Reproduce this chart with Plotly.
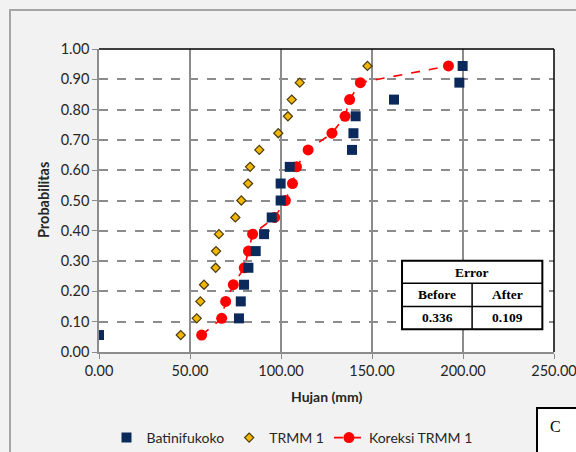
import plotly.graph_objects as go

prob = [0.056, 0.111, 0.167, 0.222, 0.278, 0.333, 0.389, 0.444, 0.500, 0.556,
        0.611, 0.667, 0.722, 0.778, 0.833, 0.889, 0.944]
batinifukoko = [0.0, 76.9, 77.9, 79.7, 82.1, 86.1, 90.7, 94.9, 99.8, 99.8,
                104.8, 139.0, 139.8, 141.0, 162.1, 198.0, 199.8]
trmm1 = [44.9, 53.7, 55.7, 57.7, 64.1, 64.3, 65.9, 74.9, 78.2, 81.9,
         83.0, 88.1, 98.5, 103.8, 105.9, 110.3, 147.5]
koreksi = [56.4, 67.4, 69.6, 73.8, 79.8, 82.1, 84.4, 96.5, 102.4, 106.3,
           108.5, 114.9, 128.0, 135.2, 137.7, 143.6, 192.0]
x_ticks = [0, 50, 100, 150, 200, 250]
y_ticks = [0.0, 0.1, 0.2, 0.3, 0.4, 0.5, 0.6, 0.7, 0.8, 0.9, 1.0]
error_before = "0.336"
error_after = "0.109"

font_main = "Lato, Open Sans, sans-serif"
serif = "Liberation Serif, DejaVu Serif, serif"
txt_col = "#262626"

fig = go.Figure()
# drawn first so the observed squares sit on top of the corrected series
fig.add_trace(go.Scatter(x=koreksi, y=prob, mode="lines+markers", name="Koreksi TRMM 1",
                         legendrank=3,
                         line=dict(color="#FF0000", width=1.6, dash="dash"),
                         marker=dict(symbol="circle", size=11, color="#FF0000")))
fig.add_trace(go.Scatter(x=trmm1, y=prob, mode="markers", name="TRMM 1", legendrank=2,
                         marker=dict(symbol="diamond", size=7, color="#F2B705",
                                     line=dict(width=1.2, color="#4A3C10"))))
fig.add_trace(go.Scatter(x=batinifukoko, y=prob, mode="markers", name="Batinifukoko",
                         legendrank=1,
                         marker=dict(symbol="square", size=10, color="#0B2A5B",
                                     line=dict(width=0))))

fig.update_xaxes(range=[0, 250], tickvals=x_ticks,
                 ticktext=[f"{v:.2f}" for v in x_ticks],
                 showgrid=True, gridcolor="#8C8C8C", gridwidth=1.5,
                 showline=True, linecolor="#8C8C8C", linewidth=1.5,
                 ticks="outside", ticklen=5, tickcolor="#8C8C8C",
                 tickfont=dict(family=font_main, size=14.5, color=txt_col),
                 ticklabeloverflow="allow",
                 zeroline=False, fixedrange=True)
fig.update_yaxes(range=[0, 1.0], tickvals=y_ticks,
                 ticktext=[f"{v:.2f}" for v in y_ticks],
                 showgrid=True, gridcolor="#8C8C8C", gridwidth=1.5, griddash="dash",
                 showline=True, linecolor="#8C8C8C", linewidth=1.5,
                 ticks="outside", ticklen=5, tickcolor="#8C8C8C",
                 tickfont=dict(family=font_main, size=14.5, color=txt_col),
                 ticklabeloverflow="allow",
                 zeroline=False, fixedrange=True)

shapes = []
shapes.append(dict(type="line", xref="paper", yref="paper", x0=0, x1=1, y0=1, y1=1,
                   line=dict(color="black", width=1.5)))
shapes.append(dict(type="line", xref="paper", yref="paper", x0=1, x1=1, y0=0, y1=1,
                   line=dict(color="black", width=1.5)))
shapes.append(dict(type="rect", xref="paper", yref="paper", x0=-0.1956, x1=1.2,
                   y0=-0.5, y1=1.1287, line=dict(color="#A6A6A6", width=2),
                   layer="below"))
tx0, tx1, txm = 166.5, 243.6, 205.0
ty0, ty1, ty2, ty3 = 0.075, 0.150, 0.227, 0.301
shapes.append(dict(type="rect", xref="x", yref="y", x0=tx0, x1=tx1, y0=ty0, y1=ty3,
                   fillcolor="white", line=dict(color="black", width=2)))
for yy in (ty1, ty2):
    shapes.append(dict(type="line", xref="x", yref="y", x0=tx0, x1=tx1, y0=yy, y1=yy,
                       line=dict(color="black", width=1.5)))
shapes.append(dict(type="line", xref="x", yref="y", x0=txm, x1=txm, y0=ty0, y1=ty2,
                   line=dict(color="black", width=1.5)))
shapes.append(dict(type="rect", xref="paper", yref="paper", x0=(537 - 99) / 455, x1=1.12,
                   y0=-0.35, y1=(352 - 408) / 303, fillcolor="white",
                   line=dict(color="black", width=2)))

cell_font = dict(family=serif, size=13.5, color="black")
annotations = [
    dict(text="<b>Error</b>", x=(tx0 + tx1) / 2, y=(ty2 + ty3) / 2, xref="x", yref="y",
         showarrow=False, font=cell_font),
    dict(text="<b>Before</b>", x=(tx0 + txm) / 2, y=(ty1 + ty2) / 2, xref="x", yref="y",
         showarrow=False, font=cell_font),
    dict(text="<b>After</b>", x=(txm + tx1) / 2, y=(ty1 + ty2) / 2, xref="x", yref="y",
         showarrow=False, font=cell_font),
    dict(text=f"<b>{error_before}</b>", x=(tx0 + txm) / 2, y=(ty0 + ty1) / 2, xref="x",
         yref="y", showarrow=False, font=cell_font),
    dict(text=f"<b>{error_after}</b>", x=(txm + tx1) / 2, y=(ty0 + ty1) / 2, xref="x",
         yref="y", showarrow=False, font=cell_font),
    dict(text="<b>Hujan (mm)</b>", x=0.5, y=(352 - 407) / 303, xref="paper", yref="paper",
         showarrow=False, font=dict(family=font_main, size=14, color=txt_col)),
    dict(text="<b>Probabilitas</b>", x=(33 - 99) / 455, y=0.5, xref="paper", yref="paper",
         textangle=-90, showarrow=False,
         font=dict(family=font_main, size=14.5, color=txt_col)),
    dict(text="C", x=(555 - 99) / 455, y=(352 - 437) / 303, xref="paper", yref="paper",
         showarrow=False, xanchor="center", font=dict(family=serif, size=16, color="black")),
]

fig.update_layout(
    width=576, height=452,
    margin=dict(l=99, r=22, t=49, b=100, autoexpand=False),
    paper_bgcolor="#F2F2F2", plot_bgcolor="white",
    shapes=shapes, annotations=annotations,
    showlegend=True,
    legend=dict(orientation="h", x=(292 - 99) / 455, xanchor="center", y=(352 - 438) / 303,
                yanchor="middle", bgcolor="rgba(0,0,0,0)", traceorder="normal",
                font=dict(family=font_main, size=14, color=txt_col),
                itemwidth=30, tracegroupgap=0),
)

fig.write_html("out.html", config={"displayModeBar": False},
               post_script="document.body.style.margin='0';document.body.style.overflow='hidden';")
